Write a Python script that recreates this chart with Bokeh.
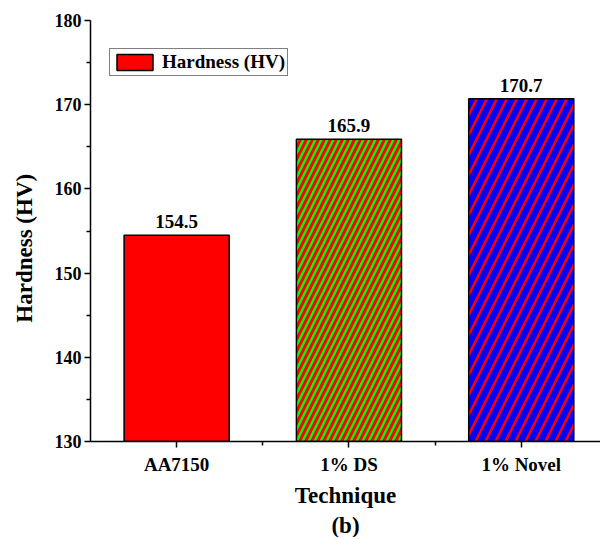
from bokeh.plotting import figure
from bokeh.models import ColumnDataSource, Range1d, FixedTicker, Legend, LegendItem, Title
from bokeh.embed import file_html
from bokeh.resources import INLINE
from bokeh.core.properties import value

categories = ["AA7150", "1% DS", "1% Novel"]
hardness = [154.5, 165.9, 170.7]
positions = [1, 2, 3]
fill_colors = ["#ff0000", "#00ff00", "#0000ff"]
hatch_patterns = [" ", "/", "/"]
hatch_scales = [12, 12, 20]
hatch_weights = [1, 3, 2.5]
y_ticks = [130, 140, 150, 160, 170, 180]

FONT = "Liberation Serif"

p = figure(frame_width=510, frame_height=421, output_backend="svg", toolbar_location=None,
           x_range=Range1d(0.5, 3.46), y_range=Range1d(130, 180),
           min_border_left=90, min_border_right=0, min_border_top=20, min_border_bottom=0)
p.outline_line_color = None
p.grid.visible = False
p.background_fill_color = "white"

renderers = []
for i in range(len(categories)):
    src = ColumnDataSource(dict(x=[positions[i]], top=[hardness[i]], lab=["%.1f" % hardness[i]]))
    r = p.vbar(x="x", top="top", bottom=130, width=0.61, source=src,
               fill_color=fill_colors[i], line_color="black", line_width=1.5,
               hatch_pattern=hatch_patterns[i], hatch_color="#ff0000",
               hatch_scale=hatch_scales[i], hatch_weight=hatch_weights[i])
    renderers.append(r)
    p.text(x="x", y="top", text="lab", source=src, text_align="center", text_baseline="bottom",
           y_offset=-7, text_font=value(FONT), text_font_style="bold", text_font_size="19px",
           text_color="black")

legend = Legend(items=[LegendItem(label="Hardness (HV)", renderers=[renderers[0]])],
                location=(19, 365), orientation="vertical")
legend.label_text_font = FONT
legend.label_text_font_style = "bold"
legend.label_text_font_size = "19px"
legend.label_text_color = "black"
legend.glyph_width = 45
legend.glyph_height = 20
legend.padding = 2
legend.margin = 0
legend.spacing = 0
legend.label_standoff = 5
legend.label_height = 20
legend.border_line_color = "black"
legend.border_line_width = 1
legend.background_fill_alpha = 1
p.add_layout(legend)

# axes
p.xaxis.ticker = FixedTicker(ticks=positions, minor_ticks=[1.5, 2.5])
p.xaxis.major_label_overrides = {positions[i]: categories[i] for i in range(len(categories))}
p.yaxis.ticker = FixedTicker(ticks=y_ticks, minor_ticks=[135, 145, 155, 165, 175])
for ax in (p.xaxis[0], p.yaxis[0]):
    ax.axis_line_color = "black"
    ax.axis_line_width = 1.5
    ax.major_tick_line_color = "black"
    ax.major_tick_line_width = 1.5
    ax.minor_tick_line_color = "black"
    ax.minor_tick_line_width = 1.5
    ax.major_tick_out = 6
    ax.major_tick_in = 0
    ax.minor_tick_out = 4
    ax.minor_tick_in = 0
    ax.major_label_text_font = FONT
    ax.major_label_text_font_style = "bold"
    ax.major_label_text_font_size = "18px"
    ax.major_label_text_color = "black"
    ax.axis_label_text_font = FONT
    ax.axis_label_text_font_style = "bold"
    ax.axis_label_text_font_size = "23px"
    ax.axis_label_text_color = "black"
p.xaxis.major_label_text_font_size = "19px"
p.xaxis.axis_label = "Technique"
p.xaxis.major_label_standoff = 6
p.xaxis.axis_label_standoff = 5
p.yaxis.axis_label = "Hardness (HV)" + "\u00a0" * 6
p.yaxis.major_label_standoff = 3
p.yaxis.axis_label_standoff = 15

sub = Title(text="(b)", align="center", text_font=FONT, text_font_style="bold",
            text_font_size="23px", text_color="black", offset=0, standoff=0)
p.add_layout(sub, "below")

open("out.html", "w").write(file_html(p, INLINE))
